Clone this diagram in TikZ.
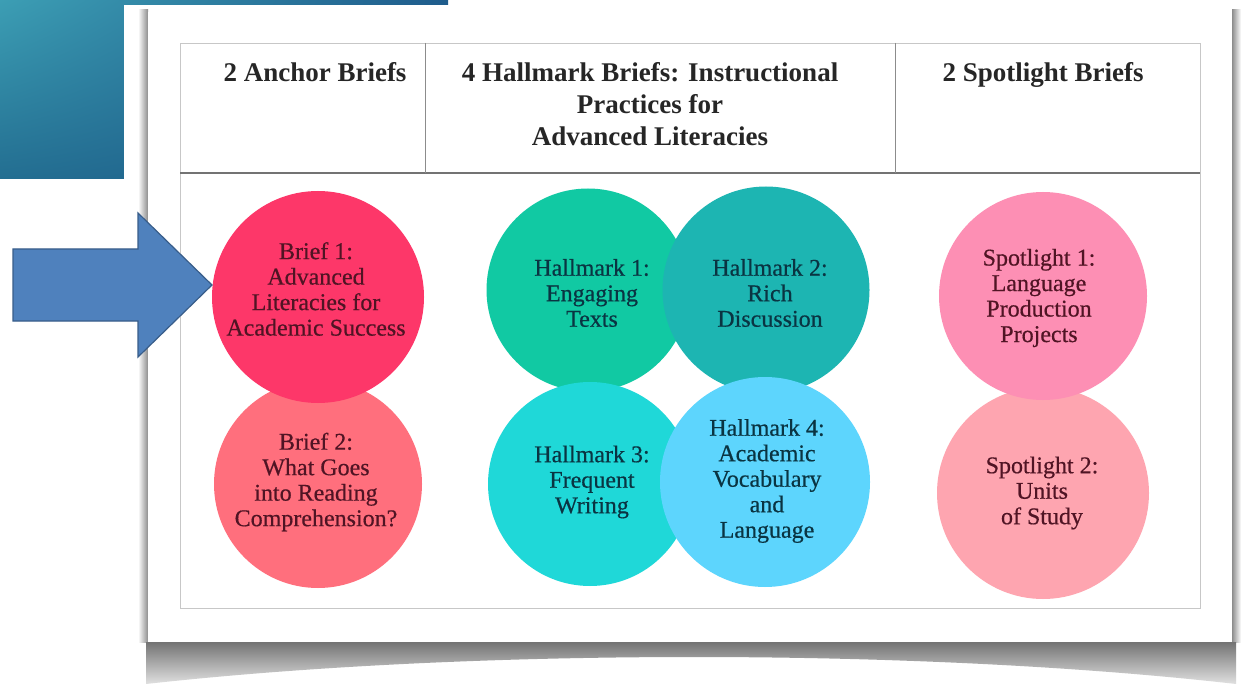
\documentclass[tikz,border=0pt]{standalone}
\usepackage{fontspec}
\setmainfont{Liberation Serif}
\newfontfamily\bodyfont{Liberation Serif}[FakeBold=0.5]
\usetikzlibrary{shadings}
\definecolor{tealA}{RGB}{60,158,180}
\definecolor{tealB}{RGB}{31,92,140}
\definecolor{tealC}{RGB}{35,110,145}
\definecolor{cBa}{RGB}{253,55,105}
\definecolor{cBb}{RGB}{255,111,125}
\definecolor{cHa}{RGB}{17,201,163}
\definecolor{cHb}{RGB}{29,181,178}
\definecolor{cHc}{RGB}{31,216,216}
\definecolor{cHd}{RGB}{93,213,253}
\definecolor{cSa}{RGB}{253,143,180}
\definecolor{cSb}{RGB}{254,165,176}
\definecolor{txP}{RGB}{80,20,36}
\definecolor{txT}{RGB}{10,52,66}
\definecolor{arrFill}{RGB}{79,129,189}
\definecolor{arrLine}{RGB}{56,93,138}
\begin{document}
\begin{tikzpicture}[x=1pt,y=-1pt,
  disc/.style={circle, inner sep=0pt},
  label text/.style={align=center, inner sep=0pt,
    font=\bodyfont\fontsize{24}{25.5}\selectfont},
  ptext/.style={label text, text=txP},
  ttext/.style={label text, text=txT},
  head/.style={align=center, font=\fontsize{27}{32}\selectfont\bfseries, text=black!85, inner sep=0pt},
  grid/.style={draw=black!22, line width=0.8pt}
]
\useasboundingbox (0,0) rectangle (1241,684);
\fill[white] (0,0) rectangle (1241,684);
% teal slide block
\shade[upper left=tealA, upper right=tealB, lower left=tealC, lower right=tealB] (0,0) rectangle (448,179);
\fill[white] (124,5) rectangle (1241,684);
% panel shadows
\shade[left color=white, right color=black!45] (138,10) rectangle (148,642);
\shade[left color=black!45, right color=white] (1232,10) rectangle (1241,642);
\shade[top color=black!55, bottom color=black!12]
  (146,642) -- (1236,642) -- (1236,684) .. controls (920,648) and (470,648) .. (146,684) -- cycle;
\fill[white] (148,12) rectangle (1232,642);
% table
\draw[grid] (180,43) rectangle (1200,608);
\draw[black!55, line width=1.2pt] (180,173) -- (1200,173);
\draw[black!45, line width=1pt] (425,43) -- (425,173);
\draw[black!45, line width=1pt] (895,43) -- (895,173);
% headers
\node[head, anchor=base] (h1) at (315,82) {2 Anchor Briefs};
\node[head, anchor=base] (h2) at (650,82) {4 Hallmark Briefs: Instructional};
\node[head, anchor=base] (h2b) at (650,114) {Practices for};
\node[head, anchor=base] (h2c) at (650,146) {Advanced Literacies};
\node[head, anchor=base] (h3) at (1043,82) {2 Spotlight Briefs};
% anchor briefs
\node[disc, fill=cBb, minimum size=208] (b2) at (318,484) {};
\node[disc, fill=cBa, minimum size=212] (b1) at (318,297) {};
% hallmarks
\node[disc, fill=cHa, minimum size=203] (k1) at (588,290) {};
\node[disc, fill=cHc, minimum size=204] (k3) at (590,484) {};
\node[disc, fill=cHb, minimum size=207] (k2) at (766,290) {};
\node[disc, fill=cHd, minimum size=210] (k4) at (765,482) {};
% spotlights
\node[disc, fill=cSb, minimum size=212] (s2) at (1043,493) {};
\node[disc, fill=cSa, minimum size=208] (s1) at (1043,296) {};
% texts
\node[ptext] (tb1) at (316,289) {Brief 1:\\Advanced\\Literacies for\\Academic Success};
\node[ptext] (tb2) at (316,482) {Brief 2:\\What Goes\\into Reading\\Comprehension?};
\node[ttext] (tk1) at (592,293) {Hallmark 1:\\Engaging\\Texts};
\node[ttext] (tk2) at (770,293) {Hallmark 2:\\Rich\\Discussion};
\node[ttext] (tk3) at (592,482) {Hallmark 3:\\Frequent\\Writing};
\node[ttext] (tk4) at (767,481) {Hallmark 4:\\Academic\\Vocabulary\\and\\Language};
\node[ptext] (ts1) at (1039,298) {Spotlight 1:\\Language\\Production\\Projects};
\node[ptext] (ts2) at (1042,493) {Spotlight 2:\\Units\\of Study};
% block arrow
\draw[fill=arrFill, draw=arrLine, line width=1.2pt, line join=miter]
  (13,249) -- (138,249) -- (138,213) -- (212,285) -- (138,357) -- (138,321) -- (13,321) -- cycle;
\end{tikzpicture}
\end{document}
